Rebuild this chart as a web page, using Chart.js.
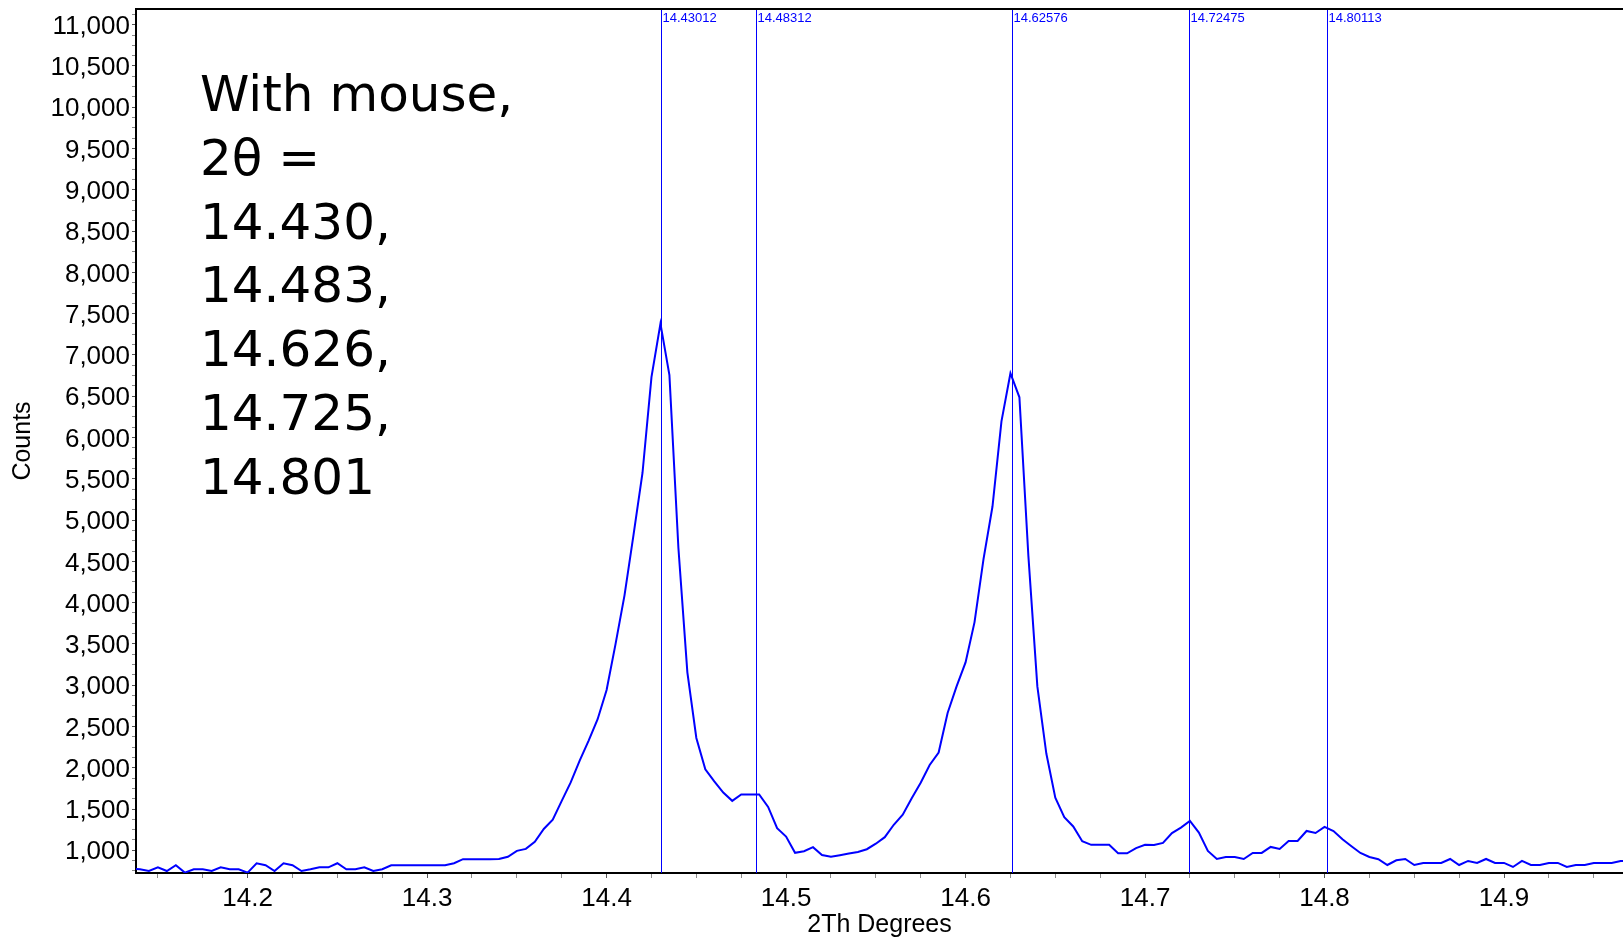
<!DOCTYPE html>
<html>
<head>
<meta charset="utf-8">
<title>Counts vs 2Th Degrees</title>
<script src="https://cdn.jsdelivr.net/npm/chart.js@4.4.1/dist/chart.umd.min.js"></script>
<style>
    html, body { margin: 0; padding: 0; background: #ffffff; }
    #scan { display: block; }
</style>
</head>
<body>
<canvas id="scan" width="1623" height="940"></canvas>
<script>
// Scan grid (degrees 2-theta)
const SCAN_START = 14.135;
const SCAN_STEP = 0.005;

// Counts, one per step
const counts = [
    775, 770, 749, 794, 749, 819, 730, 770, 770, 749,
    794, 770, 770, 730, 843, 819, 749, 843, 819, 749,
    770, 794, 794, 843, 770, 770, 794, 749, 770, 819,
    819, 819, 819, 819, 819, 819, 843, 892, 892, 892,
    892, 894, 922, 993, 1017, 1104, 1258, 1372, 1599, 1822,
    2086, 2329, 2588, 2942, 3500, 4091, 4820, 5570, 6732, 7379,
    6755, 4665, 3156, 2361, 1982, 1835, 1699, 1599, 1677, 1677,
    1677, 1525, 1267, 1166, 970, 989, 1038, 942, 922, 940,
    960, 980, 1013, 1080, 1159, 1309, 1431, 1630, 1818, 2034,
    2185, 2664, 2985, 3276, 3764, 4527, 5164, 6195, 6778, 6487,
    4566, 2985, 2172, 1638, 1402, 1289, 1109, 1066, 1066, 1066,
    963, 963, 1026, 1066, 1064, 1090, 1209, 1275, 1355, 1214,
    992, 895, 919, 919, 895, 968, 968, 1041, 1017, 1113,
    1113, 1234, 1210, 1283, 1234, 1133, 1049, 968, 919, 892,
    822, 879, 895, 822, 847, 847, 847, 895, 822, 871,
    847, 895, 847, 847, 798, 871, 822, 822, 847, 847,
    798, 822, 822, 847, 847, 847, 871, 871
];

// Peak positions picked with the mouse
const peakPositions = [14.43012, 14.48312, 14.62576, 14.72475, 14.80113];
const peakLabels = ['14.43012', '14.48312', '14.62576', '14.72475', '14.80113'];

// Note written on the plot
const noteLines = ['With mouse,', '2θ =', '14.430,', '14.483,', '14.626,', '14.725,', '14.801'];

// Axis ranges (Y_MAX kept off a whole number of 125 steps so ticks stay on round values)
const X_MIN = 14.1378;
const X_MAX = 14.9663;
const Y_MIN = 725;
const Y_MAX = 11190;

const LABEL_FONT = '"Liberation Sans", Arial, sans-serif';

function isMultiple(v, step) {
    const r = v / step;
    return Math.abs(r - Math.round(r)) < 1e-6;
}

// Peak markers, frame, axis titles and the note
const overlayPlugin = {
    id: 'overlay',
    afterDatasetsDraw(chart) {
        const { ctx, chartArea: area, scales: { x } } = chart;
        ctx.save();
        ctx.strokeStyle = '#0000ff';
        ctx.fillStyle = '#0000ff';
        ctx.lineWidth = 1;
        ctx.font = '13px ' + LABEL_FONT;
        ctx.textBaseline = 'middle';
        ctx.textAlign = 'left';
        peakPositions.forEach((p, i) => {
            const px = Math.round(x.getPixelForValue(p)) + 0.5;
            ctx.beginPath();
            ctx.moveTo(px, area.top);
            ctx.lineTo(px, area.bottom);
            ctx.stroke();
            ctx.fillText(peakLabels[i], px + 1, area.top + 9);
        });

        // top frame line
        ctx.strokeStyle = '#000000';
        ctx.lineWidth = 2;
        ctx.beginPath();
        ctx.moveTo(area.left - 1, area.top);
        ctx.lineTo(area.right, area.top);
        ctx.stroke();
        ctx.restore();
    },
    afterDraw(chart) {
        const { ctx, chartArea: area } = chart;
        ctx.save();
        ctx.fillStyle = '#000000';
        ctx.font = '25px ' + LABEL_FONT;
        ctx.textAlign = 'center';
        ctx.textBaseline = 'middle';
        ctx.fillText('2Th Degrees', (area.left + area.right) / 2, 925);

        ctx.save();
        ctx.translate(23, (area.top + area.bottom) / 2);
        ctx.rotate(-Math.PI / 2);
        ctx.fillText('Counts', 0, 0);
        ctx.restore();

        ctx.font = '50px "DejaVu Sans", Verdana, sans-serif';
        ctx.textAlign = 'left';
        noteLines.forEach((line, i) => {
            ctx.fillText(line, 200, 98 + i * 63.8);
        });
        ctx.restore();
    }
};

const scanCtx = document.getElementById('scan').getContext('2d');
new Chart(scanCtx, {
    type: 'line',
    data: {
        datasets: [{
            label: 'Counts',
            data: counts.map((c, i) => ({ x: SCAN_START + i * SCAN_STEP, y: c })),
            borderColor: '#0000ff',
            borderWidth: 2,
            pointRadius: 0,
            tension: 0,
            fill: false
        }]
    },
    options: {
        responsive: false,
        animation: false,
        events: [],
        layout: {
            padding: { top: 9, left: 0, right: 0, bottom: 0 }
        },
        plugins: {
            legend: { display: false },
            tooltip: { enabled: false }
        },
        scales: {
            x: {
                type: 'linear',
                min: X_MIN,
                max: X_MAX,
                afterFit(scale) {
                    scale.height = 67;
                    scale.paddingLeft = 0;
                    scale.paddingRight = 0;
                },
                border: { color: '#000000', width: 2 },
                grid: {
                    drawOnChartArea: false,
                    tickLength: 5,
                    tickColor: ctx => isMultiple(ctx.tick.value, 0.1) ? '#555555' : '#8a8a8a'
                },
                ticks: {
                    stepSize: 0.025,
                    includeBounds: false,
                    autoSkip: false,
                    maxRotation: 0,
                    padding: 5,
                    color: '#000000',
                    font: { family: LABEL_FONT, size: 26 },
                    callback: v => isMultiple(v, 0.1) ? v.toFixed(1) : ''
                }
            },
            y: {
                type: 'linear',
                min: Y_MIN,
                max: Y_MAX,
                afterFit(scale) {
                    scale.width = 136;
                    scale.paddingTop = 0;
                    scale.paddingBottom = 0;
                },
                border: { color: '#000000', width: 2 },
                grid: {
                    drawOnChartArea: false,
                    tickLength: 4,
                    tickColor: ctx => isMultiple(ctx.tick.value, 500) ? '#555555' : '#8a8a8a'
                },
                ticks: {
                    stepSize: 125,
                    includeBounds: false,
                    autoSkip: false,
                    padding: 2,
                    labelOffset: 2,
                    color: '#000000',
                    font: { family: LABEL_FONT, size: 26 },
                    callback: v => isMultiple(v, 500) ? v.toLocaleString('en-US') : ''
                }
            }
        }
    },
    plugins: [overlayPlugin]
});
</script>
</body>
</html>
